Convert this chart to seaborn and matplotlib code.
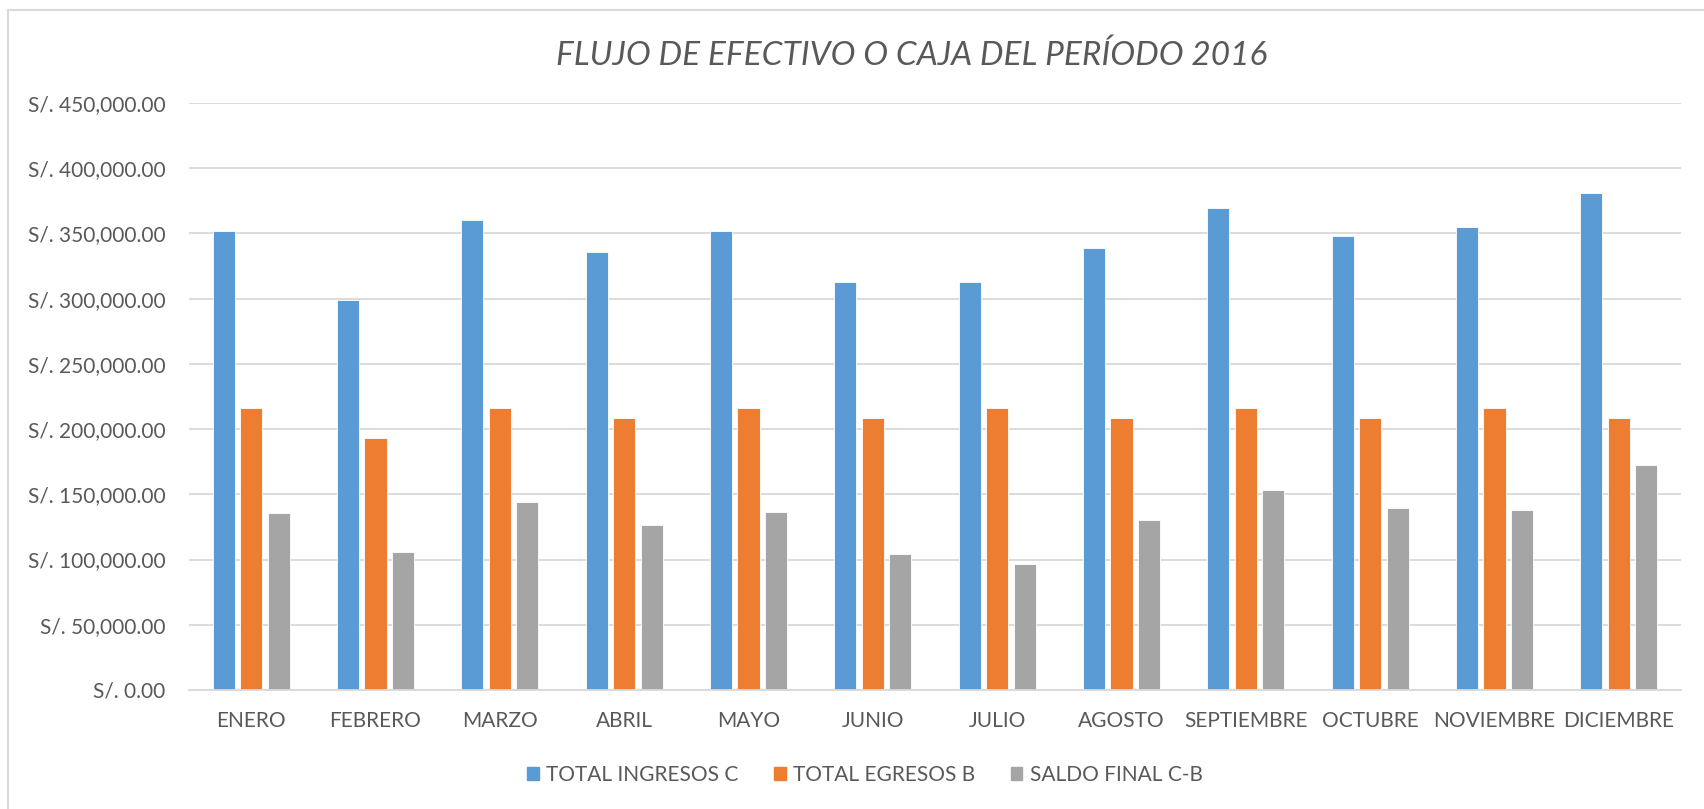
import seaborn as sns
import pandas as pd
import matplotlib.pyplot as plt
from matplotlib.ticker import FuncFormatter, MultipleLocator
from matplotlib.lines import Line2D

# datos (soles)
meses = ['ENERO', 'FEBRERO', 'MARZO', 'ABRIL', 'MAYO', 'JUNIO', 'JULIO',
         'AGOSTO', 'SEPTIEMBRE', 'OCTUBRE', 'NOVIEMBRE', 'DICIEMBRE']
ingresos = [352000, 299000, 360000, 335800, 352100, 312800, 313000,
            339000, 369500, 348000, 354700, 381000]
egresos = [216000, 193000, 216000, 208300, 216000, 208300, 216000,
           208300, 216000, 208300, 216000, 208300]
saldo = [136000, 105600, 143900, 126500, 136200, 104000, 96600,
         130600, 153300, 139500, 138200, 172700]
series = ['TOTAL INGRESOS C', 'TOTAL EGRESOS B', 'SALDO FINAL C-B']
colores = ['#5B9BD5', '#ED7D31', '#A5A5A5']

df = pd.DataFrame({'mes': meses * 3,
                   'serie': [series[0]] * 12 + [series[1]] * 12 + [series[2]] * 12,
                   'valor': ingresos + egresos + saldo})

sns.set_style('white')
plt.rcParams['font.family'] = ['Lato', 'DejaVu Sans']
texto = '#595959'

fig = plt.figure(figsize=(17.04, 8.09), dpi=100)
ax = fig.add_axes([189 / 1704, 1 - 690 / 809, (1681 - 189) / 1704, (690 - 103) / 809])

sns.barplot(data=df, x='mes', y='valor', hue='serie', palette=colores,
            saturation=1, width=0.664, gap=0.2, dodge=True, ax=ax, legend=False,
            edgecolor='white', linewidth=0.6)

ax.set_xlim(-0.5, 11.5)
ax.set_ylim(0, 450000)
ax.yaxis.set_major_locator(MultipleLocator(50000))
ax.yaxis.set_major_formatter(FuncFormatter(lambda v, p: f'S/. {v:,.2f}'))
ax.grid(axis='y', color='#D9D9D9', linewidth=1.3)
ax.set_axisbelow(True)
for s in ['top', 'right', 'left']:
    ax.spines[s].set_visible(False)
ax.spines['bottom'].set_color('#D9D9D9')
ax.spines['bottom'].set_linewidth(1.3)
ax.tick_params(axis='both', length=0, labelsize=15, labelcolor=texto)
ax.tick_params(axis='y', pad=17)
ax.tick_params(axis='x', pad=15)
ax.set_xlabel('')
ax.set_ylabel('')

fig.text(912 / 1704, 1 - 56 / 809, 'FLUJO DE EFECTIVO O CAJA DEL PERÍODO 2016',
         ha='center', va='center', fontsize=24, style='italic', color=texto)

handles = [plt.Rectangle((0, 0), 1, 1, color=c) for c in colores]
fig.legend(handles, series, loc='center', bbox_to_anchor=(865 / 1704, 1 - 775 / 809),
           ncol=3, frameon=False, fontsize=15, labelcolor=texto,
           handlelength=0.55, handleheight=0.55, handletextpad=0.37, columnspacing=1.7)

# marco del area del grafico
fig.add_artist(Line2D([8 / 1704, 8 / 1704], [0, 1 - 10 / 809], color='#D9D9D9', lw=1.5))
fig.add_artist(Line2D([8 / 1704, 1], [1 - 10 / 809, 1 - 10 / 809], color='#D9D9D9', lw=1.5))

fig.savefig('out.png', dpi=100, facecolor='white')
